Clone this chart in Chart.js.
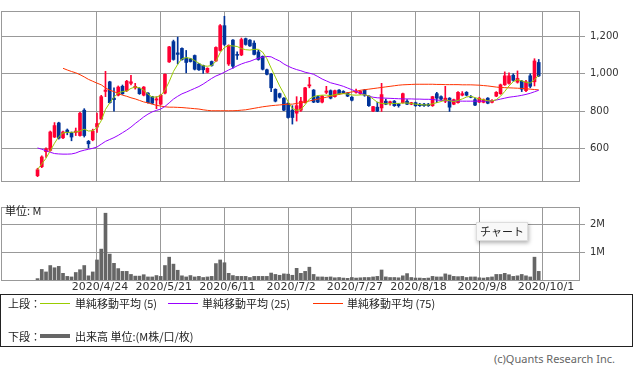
<!DOCTYPE html>
<html>
<head>
<meta charset="utf-8">
<script src="https://cdn.jsdelivr.net/npm/chart.js@4.4.1/dist/chart.umd.min.js"></script>
<style>
  body { margin: 0; background: #fff; width: 633px; height: 375px; overflow: hidden; position: relative;
         font-family: "Noto Sans CJK JP", "Noto Sans", sans-serif; color: #222; }
  canvas { position: absolute; left: 0; }
  #price { top: 0; }
  #volume { top: 196px; }
  .t { position: absolute; white-space: nowrap; font-size: 11px; line-height: 14px; }
  .ln { position: absolute; height: 1px; width: 30px; }
  #legend { position: absolute; left: 0; top: 294px; width: 633px; height: 53px; box-sizing: border-box; border: 1px solid #222; }
  #tip { position: absolute; left: 476px; top: 222px; width: 52px; height: 19px; box-sizing: border-box;
         background: #f8f8f8; border: 1px solid #ddd; box-shadow: 1px 2px 4px rgba(0,0,0,0.3);
         font-size: 11px; line-height: 17px; text-align: center; color: #222; }
  #copy { position: absolute; right: 18px; top: 351px; font-family: "Noto Sans", sans-serif; font-size: 11px; color: #666; }
</style>
</head>
<body>
<canvas id="price" width="633" height="192"></canvas>
<canvas id="volume" width="633" height="100"></canvas>
<div class="t" style="left:5px;top:203px">単位: M</div>
<div id="tip">チャート</div>
<div id="legend"></div>
<div class="t" style="left:8px;top:296px">上段：</div>
<div class="ln" style="left:40px;top:303px;background:#99cc00"></div>
<div class="t" style="left:75px;top:296px">単純移動平均 (5)</div>
<div class="ln" style="left:168px;top:303px;background:#9900ff"></div>
<div class="t" style="left:202px;top:296px">単純移動平均 (25)</div>
<div class="ln" style="left:313px;top:303px;background:#ff3300"></div>
<div class="t" style="left:347px;top:296px">単純移動平均 (75)</div>
<div class="t" style="left:8px;top:329px">下段：</div>
<div class="ln" style="left:40px;top:334px;height:4px;background:#666"></div>
<div class="t" style="left:75px;top:329px">出来高 単位:(M株/口/枚)</div>
<div id="copy">(c)Quants Research Inc.</div>
<script>
// 株価チャート (日足) + 出来高
const UP = "#ff0033";
const DOWN = "#003399";
const GRID = "#999";

const dates = [
  "2020/4/6","2020/4/7","2020/4/8","2020/4/9","2020/4/10","2020/4/13","2020/4/14","2020/4/15","2020/4/16","2020/4/17",
  "2020/4/20","2020/4/21","2020/4/22","2020/4/23","2020/4/24","2020/4/27","2020/4/28","2020/4/30",
  "2020/5/1","2020/5/7","2020/5/8","2020/5/11","2020/5/12","2020/5/13","2020/5/14","2020/5/15","2020/5/18","2020/5/19",
  "2020/5/20","2020/5/21","2020/5/22","2020/5/25","2020/5/26","2020/5/27","2020/5/28","2020/5/29",
  "2020/6/1","2020/6/2","2020/6/3","2020/6/4","2020/6/5","2020/6/8","2020/6/9","2020/6/10","2020/6/11","2020/6/12",
  "2020/6/15","2020/6/16","2020/6/17","2020/6/18","2020/6/19","2020/6/22","2020/6/23","2020/6/24","2020/6/25","2020/6/26",
  "2020/6/29","2020/6/30",
  "2020/7/1","2020/7/2","2020/7/3","2020/7/6","2020/7/7","2020/7/8","2020/7/9","2020/7/10","2020/7/13","2020/7/14",
  "2020/7/15","2020/7/16","2020/7/17","2020/7/20","2020/7/21","2020/7/22","2020/7/27","2020/7/28","2020/7/29","2020/7/30",
  "2020/7/31",
  "2020/8/3","2020/8/4","2020/8/5","2020/8/6","2020/8/7","2020/8/11","2020/8/12","2020/8/13","2020/8/14","2020/8/17",
  "2020/8/18","2020/8/19","2020/8/20","2020/8/21","2020/8/24","2020/8/25","2020/8/26","2020/8/27","2020/8/28","2020/8/31",
  "2020/9/1","2020/9/2","2020/9/3","2020/9/4","2020/9/7","2020/9/8","2020/9/9","2020/9/10","2020/9/11","2020/9/14",
  "2020/9/15","2020/9/16","2020/9/17","2020/9/18","2020/9/23","2020/9/24","2020/9/25","2020/9/28","2020/9/29","2020/9/30",
  "2020/10/1"
];

const open = [
  457,505,585,592,663,738,659,700,687,687, 671,806,640,648,716,759,906,957,870,886,
  933,910,949,925,922,886,897,878,860,838, 897,1063,1171,1111,1135,1084,1079,1097,1052,1044,
  1008,1065,1068,1124,1256,1052,1179,1103,1100,1187, 1179,1163,1116,1092,1021,997,917,894,870,843,
  806,790,806,846,935,913,878,849,901,910, 878,913,906,897,875,901,894,913,881,801,
  822,818,854,846,854,838,846,854,838,846, 838,838,838,830,894,878,854,870,838,846,
  886,901,878,862,849,848,870,848,881,894, 941,949,992,955,960,910,989,957,1060
];
const high = [
  497,563,605,695,740,742,695,706,690,711, 795,814,645,705,790,885,1013,960,925,935,
  940,965,992,949,926,932,900,880,878,888, 1000,1146,1179,1195,1138,1124,1082,1100,1055,1046,
  1032,1068,1143,1262,1306,1154,1182,1116,1190,1190, 1182,1175,1125,1095,1025,1002,920,897,873,846,
  830,878,875,928,981,916,882,884,933,914, 913,916,910,900,878,918,910,916,884,826,
  849,949,865,854,858,842,897,862,848,849, 842,842,842,880,901,882,933,873,865,905,
  905,905,884,870,875,866,873,862,905,945, 1010,1005,1000,1015,965,965,1000,1080,1076
];
const low = [
  452,500,555,588,660,652,655,675,643,671, 668,663,605,643,687,755,878,843,801,882,
  890,905,941,918,890,882,843,840,814,835, 893,1060,1072,1052,1072,1005,1062,1020,1018,1002,
  1005,1040,1065,1120,1150,1044,1030,1076,1096,1152, 1145,1100,1072,1020,994,905,850,870,803,763,
  732,748,800,843,925,846,846,845,894,866, 875,890,894,878,855,897,890,880,826,798,
  798,799,835,833,826,822,843,835,835,826, 826,826,826,826,846,862,846,799,835,843,
  882,882,872,830,846,845,840,845,878,890, 938,945,960,950,905,905,925,935,985
];
const close = [
  489,557,600,690,724,657,690,687,663,695, 790,671,627,695,735,878,913,846,862,929,
  894,960,957,933,894,929,846,843,866,886, 997,1143,1076,1103,1076,1060,1065,1024,1021,1021,
  1029,1044,1140,1256,1156,1151,1040,1098,1182,1156, 1148,1103,1076,1024,997,925,854,875,806,767,
  767,830,854,925,941,849,849,881,908,870, 910,894,897,881,859,906,906,886,830,825,
  801,889,838,851,830,830,894,838,846,830, 830,830,830,878,870,865,870,822,862,901,
  894,886,875,833,870,862,843,858,901,941, 989,989,965,975,918,957,933,1068,989
];

// 出来高 (M株)
const volume = [
  0.05,0.38,0.29,0.52,0.44,0.49,0.24,0.13,0.11,0.27, 0.37,0.52,0.15,0.29,0.72,1.11,2.40,0.93,0.60,0.41,
  0.31,0.31,0.20,0.14,0.14,0.19,0.11,0.11,0.16,0.13, 0.52,0.82,0.57,0.35,0.15,0.11,0.16,0.11,0.13,0.09,
  0.11,0.13,0.59,0.72,0.62,0.24,0.16,0.13,0.13,0.13, 0.09,0.13,0.13,0.13,0.13,0.25,0.20,0.17,0.22,0.21,
  0.17,0.42,0.24,0.31,0.46,0.20,0.11,0.11,0.10,0.11, 0.08,0.09,0.07,0.06,0.09,0.07,0.08,0.09,0.09,0.11,
  0.13,0.36,0.11,0.09,0.09,0.08,0.15,0.23,0.09,0.07, 0.07,0.06,0.07,0.13,0.11,0.11,0.22,0.18,0.13,0.12,
  0.13,0.09,0.11,0.11,0.08,0.07,0.09,0.11,0.20,0.20, 0.24,0.19,0.13,0.15,0.20,0.15,0.11,0.82,0.31
];

const ma5 = [
  490,520,550,590,630,665,685,688,688,690, 695,705,695,697,712,750,810,845,875,898,
  905,908,922,930,925,912,892,876,876,884, 912,958,1012,1050,1080,1086,1082,1070,1056,1042,
  1040,1044,1066,1112,1140,1150,1148,1145,1134,1128, 1126,1130,1130,1115,1080,1030,982,935,894,850,
  815,805,810,835,865,878,884,886,886,884, 888,893,894,892,887,886,887,888,882,866,
  848,842,840,840,842,842,844,844,842,838, 836,834,834,840,846,852,860,856,852,858,
  866,876,880,873,866,862,856,855,862,880, 906,935,958,968,962,955,950,968,992
];
const ma25 = [
  605,598,590,582,575,573,572,572,573,578, 587,593,598,603,610,625,640,650,660,672,
  686,700,716,735,752,770,785,797,805,812, 826,845,865,880,893,902,912,922,932,945,
  960,975,988,997,1008,1020,1030,1042,1052,1060, 1066,1075,1083,1088,1092,1090,1078,1068,1052,1040,
  1030,1022,1016,1008,1003,997,985,972,962,952, 946,940,933,924,915,906,897,888,880,875,
  872,871,870,869,868,867,866,866,866,865, 865,864,864,863,860,858,857,856,855,855,
  854,854,854,854,854,854,855,856,860,865, 870,875,878,881,885,890,896,904,912
];
const ma75 = [
  null,null,null,null,null,null,1029,1020,1012,1005, 995,983,970,960,950,941,925,912,905,895,
  886,880,872,866,858,850,845,838,832,828, 824,822,822,821,820,818,816,814,812,808,
  805,803,803,803,803,803,803,804,806,808, 812,816,820,824,827,830,832,834,836,838,
  838,842,846,850,855,860,865,870,875,880, 885,890,895,899,903,907,912,915,918,921,
  924,927,930,933,936,939,941,942,943,944, 944,944,944,944,943,943,942,942,942,942,
  941,941,941,940,939,937,935,932,929,927, 926,925,924,923,922,920,918,916,914
];

const xTickIdx = [14, 29, 44, 59, 74, 89, 104, 119];
const priceTicks = [600, 800, 1000, 1200];
const volumeTicks = [1, 2];

const X_MIN = -8.6;
const X_MAX = 127.48;

Chart.defaults.font.family = "DejaVu Sans";
Chart.defaults.color = "#333";

const idx = close.map((_, i) => i);
const candleColors = idx.map((i) => (close[i] >= open[i] ? UP : DOWN));

// 枠線
const framePlugin = {
  id: "frame",
  beforeDatasetsDraw(chart) {
    const { ctx, chartArea: a } = chart;
    ctx.save();
    ctx.strokeStyle = GRID;
    ctx.lineWidth = 1;
    ctx.strokeRect(a.left + 0.5, a.top + 0.5, a.right - a.left, a.bottom - a.top);
    ctx.restore();
  },
};

function xScale(showLabels) {
  return {
    type: "linear",
    min: X_MIN,
    max: X_MAX,
    offset: false,
    border: { display: false },
    grid: { color: GRID, drawTicks: false, offset: false },
    afterBuildTicks: (axis) => { axis.ticks = xTickIdx.map((v) => ({ value: v })); },
    ticks: {
      display: showLabels,
      autoSkip: false,
      maxRotation: 0,
      padding: 1,
      labelOffset: 3,
      font: { size: 11 },
      color: "#333",
      callback: (v) => dates[v],
    },
    afterFit: (axis) => { axis.height = showLabels ? 16 : 0; },
  };
}

function yScale(min, max, ticks, fmt) {
  return {
    position: "right",
    min: min,
    max: max,
    beginAtZero: false,
    border: { display: false },
    grid: { color: GRID, tickLength: 6 },
    afterBuildTicks: (axis) => { axis.ticks = ticks.map((v) => ({ value: v })); },
    ticks: { padding: 5, font: { size: 10 }, color: "#333", callback: fmt },
    afterFit: (axis) => { axis.width = 54; },
  };
}

const commonOptions = {
  responsive: false,
  animation: false,
  plugins: { legend: { display: false }, tooltip: { enabled: false } },
};

new Chart(document.getElementById("price"), {
  type: "bar",
  data: {
    datasets: [
      {
        label: "wick",
        data: idx.map((i) => ({ x: i, y: [low[i], high[i]] })),
        backgroundColor: candleColors,
        barThickness: 1,
        grouped: false,
        order: 5,
      },
      {
        label: "body",
        data: idx.map((i) => ({ x: i, y: [open[i], close[i]] })),
        backgroundColor: candleColors,
        barThickness: 3,
        grouped: false,
        order: 4,
      },
      {
        type: "line",
        label: "単純移動平均 (75)",
        data: idx.map((i) => ({ x: i, y: ma75[i] })),
        borderColor: "#ff3300",
        borderWidth: 1,
        pointRadius: 0,
        order: 3,
      },
      {
        type: "line",
        label: "単純移動平均 (25)",
        data: idx.map((i) => ({ x: i, y: ma25[i] })),
        borderColor: "#9900ff",
        borderWidth: 1,
        pointRadius: 0,
        order: 2,
      },
      {
        type: "line",
        label: "単純移動平均 (5)",
        data: idx.map((i) => ({ x: i, y: ma5[i] })),
        borderColor: "#99cc00",
        borderWidth: 1,
        pointRadius: 0,
        order: 1,
      },
    ],
  },
  options: {
    ...commonOptions,
    layout: { padding: { top: 1, left: 1, right: 0, bottom: 2 } },
    scales: {
      x: xScale(false),
      y: yScale(429, 1334, priceTicks, (v) => v.toLocaleString("en-US")),
    },
  },
  plugins: [framePlugin],
});

new Chart(document.getElementById("volume"), {
  type: "bar",
  data: {
    datasets: [
      {
        label: "出来高",
        data: idx.map((i) => ({ x: i, y: volume[i] })),
        backgroundColor: "#666",
        barThickness: 3,
      },
    ],
  },
  options: {
    ...commonOptions,
    layout: { padding: { top: 4, left: 1, right: 0, bottom: 0 } },
    scales: {
      x: xScale(true),
      y: yScale(0, 2.623, volumeTicks, (v) => v + "M"),
    },
  },
  plugins: [framePlugin],
});
</script>
</body>
</html>
